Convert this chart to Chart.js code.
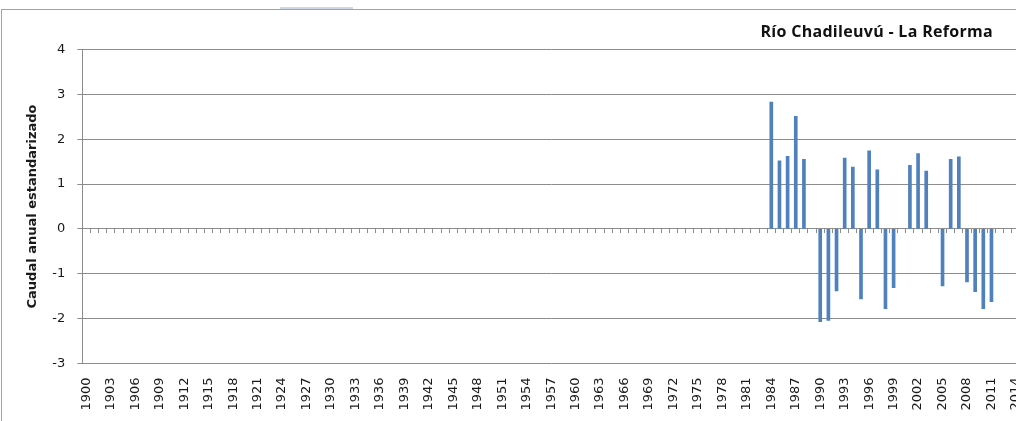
<!DOCTYPE html>
<html lang="es">
<head>
<meta charset="utf-8">
<title>Río Chadileuvú - La Reforma</title>
<script src="https://cdn.jsdelivr.net/npm/chart.js@4.4.1/dist/chart.umd.min.js"></script>
<style>
  html, body { margin: 0; padding: 0; background: #fff; overflow: hidden; }
  #wrap { position: relative; width: 1016px; height: 421px; overflow: hidden; background: #fff; }
  #frame { position: absolute; left: 1px; top: 9px; width: 1030px; height: 430px;
           border-top: 1px solid #a3a3a3; border-left: 1px solid #a3a3a3; pointer-events: none; }
  #tab { position: absolute; left: 280px; top: 7px; width: 73px; height: 2px; background: #cfd6e4; }
  #plot { position: absolute; left: 0; top: 0; }
  #title { position: absolute; right: 23px; top: 20px; font: 700 16px "Open Sans", "Lato", sans-serif;
           color: #111; white-space: nowrap; letter-spacing: 0.3px; }
</style>
</head>
<body>
<div id="wrap">
  <div id="tab"></div>
  <div id="frame"></div>
  <canvas id="plot" width="1020" height="421"></canvas>
  <div id="title">Río Chadileuvú - La Reforma</div>
</div>
<script>
// Category axis: one slot per year
const firstYear = 1900;
const lastYear = 2014;

// Standardised annual discharge, 1984-2011 (null = no record)
const recordStart = 1984;
const flowValues = [
  2.83, 1.52, 1.62, 2.51, 1.55, null, -2.07, -2.04, -1.38, 1.58,
  1.38, -1.56, 1.74, 1.32, -1.78, -1.31, null, 1.42, 1.68, 1.29,
  null, -1.27, 1.55, 1.61, -1.18, -1.40, -1.78, -1.62
];

// Y axis range and label step
const yMin = -3;
const yMax = 4;
const yStep = 1;
const labelEvery = 3;

const years = [];
for (let y = firstYear; y <= lastYear; y++) years.push(String(y));
const series = years.map(y => {
  const i = Number(y) - recordStart;
  return (i >= 0 && i < flowValues.length) ? flowValues[i] : null;
});

const gridGray = '#8c8c8c';
const textColor = '#1a1a1a';

new Chart(document.getElementById('plot'), {
  type: 'bar',
  data: {
    labels: years,
    datasets: [{
      label: 'Caudal anual estandarizado',
      data: series,
      backgroundColor: '#4f81bd',
      borderWidth: 0,
      barThickness: 3,
      xAxisID: 'x',
      yAxisID: 'y'
    }]
  },
  options: {
    responsive: false,
    animation: false,
    layout: { padding: { left: 0, right: 0, top: 49.5, bottom: 0 } },
    plugins: { legend: { display: false }, tooltip: { enabled: false }, title: { display: false } },
    scales: {
      x: {
        type: 'category',
        position: 'bottom',
        offset: true,
        grid: { display: false, drawTicks: false },
        border: { display: false },
        ticks: {
          autoSkip: false,
          minRotation: 90,
          maxRotation: 90,
          padding: 14,
          color: textColor,
          font: { family: 'DejaVu Sans', size: 13 },
          callback: function (value, index) {
            return index % labelEvery === 0 ? this.getLabelForValue(value) : '';
          }
        },
        afterFit: s => { s.height = 57.5; s.paddingLeft = 0; s.paddingRight = 0; }
      },
      x2: {
        type: 'category',
        axis: 'x',
        position: { y: 0 },
        offset: true,
        grid: { display: true, offset: true, drawOnChartArea: false, drawTicks: true, tickLength: 4, color: gridGray, lineWidth: 1 },
        border: { display: true, color: gridGray, width: 1 },
        ticks: { display: false },
        afterFit: s => { s.paddingLeft = 0; s.paddingRight = 0; }
      },
      y: {
        position: 'left',
        min: yMin,
        max: yMax,
        ticks: {
          stepSize: yStep,
          padding: 12,
          color: textColor,
          font: { family: 'DejaVu Sans', size: 13 }
        },
        grid: { color: gridGray, lineWidth: 1, drawTicks: true, tickLength: 5 },
        border: { display: true, color: gridGray, width: 1 },
        title: {
          display: true,
          text: 'Caudal anual estandarizado',
          color: textColor,
          font: { family: 'DejaVu Sans', size: 13, weight: 'bold' },
          padding: { top: 25, bottom: 0 }
        },
        afterFit: s => { s.width = 82.3; }
      }
    }
  }
});
</script>
</body>
</html>
